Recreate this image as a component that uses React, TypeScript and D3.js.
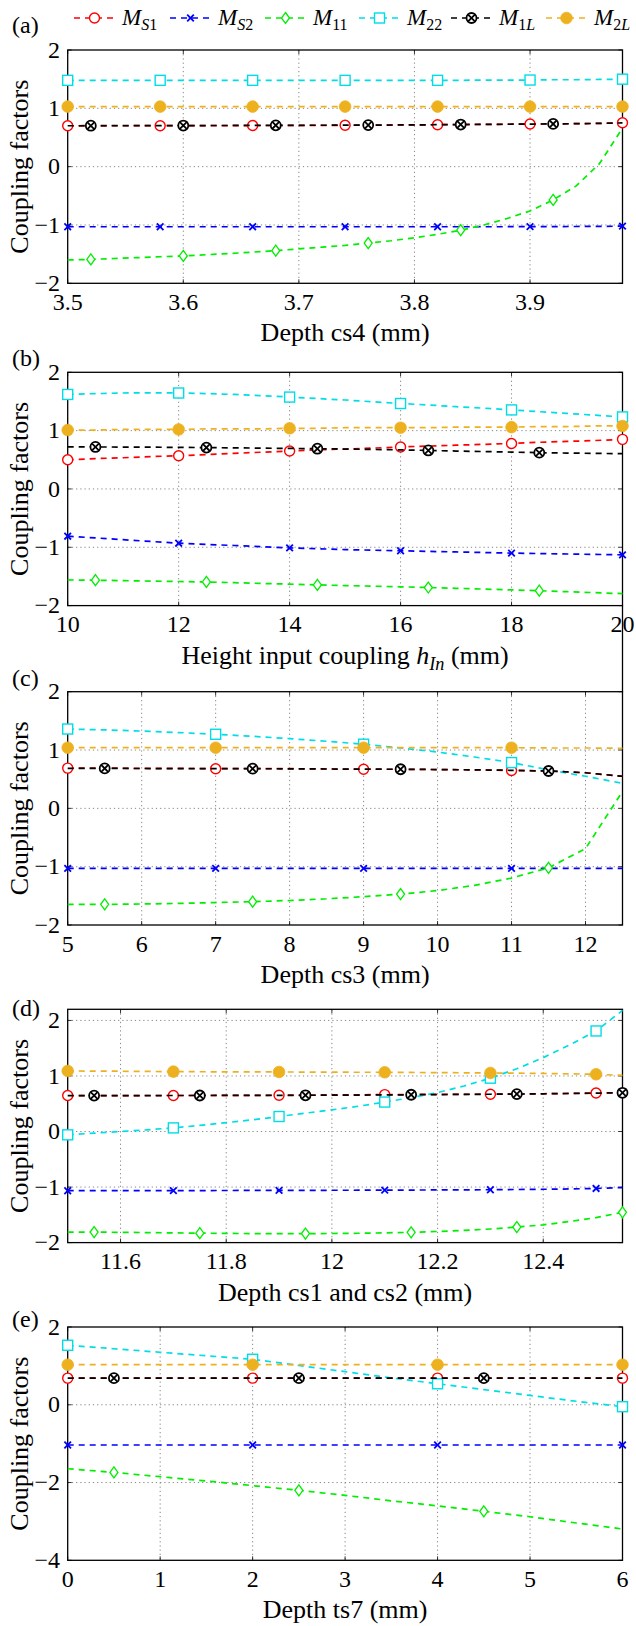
import React from "react";
import * as d3 from "d3";

const W = 636;
const H = 1626;
const FONT = "'Liberation Serif', 'Times New Roman', serif";

// plot frame (shared by all five panels)
const L = 67.7;
const R = 622.5;
const PH = 233.3;

// ---- series (drawing order as in the figure) ----
const seriesSubs: [string, boolean][][] = [
  [["S", true], ["1", false]],
  [["S", true], ["2", false]],
  [["11", false]],
  [["22", false]],
  [["1", false], ["L", true]],
  [["2", false], ["L", true]],
];
const seriesColors = ["#ff0000", "#0000ff", "#00ee00", "#00dde6", "#000000", "#edb120"];
const seriesMarks = ["circle", "cross", "diamond", "square", "otimes", "dot"];
const markPhase = [0, 0, 1, 0, 1, 0];
const MARK_EVERY = 4;

// ---- (a) depth cs4 ----
const xsA = [3.5, 3.52, 3.54, 3.56, 3.58, 3.6, 3.62, 3.64, 3.66, 3.68, 3.7, 3.72, 3.74, 3.76, 3.78, 3.8, 3.82, 3.84, 3.86, 3.88, 3.9, 3.92, 3.94, 3.96, 3.98];
const aS1 = [0.7, 0.7, 0.701, 0.702, 0.702, 0.703, 0.704, 0.705, 0.705, 0.706, 0.707, 0.708, 0.709, 0.711, 0.713, 0.716, 0.719, 0.721, 0.724, 0.727, 0.73, 0.733, 0.737, 0.742, 0.752];
const aS2 = [-1.03, -1.03, -1.03, -1.03, -1.03, -1.03, -1.03, -1.03, -1.03, -1.03, -1.03, -1.03, -1.03, -1.03, -1.03, -1.03, -1.03, -1.03, -1.03, -1.03, -1.028, -1.027, -1.026, -1.024, -1.02];
const a11 = [-1.6, -1.59, -1.575, -1.56, -1.545, -1.53, -1.51, -1.49, -1.465, -1.44, -1.41, -1.38, -1.35, -1.31, -1.27, -1.22, -1.16, -1.09, -1.0, -0.89, -0.76, -0.57, -0.33, 0.05, 0.66];
const a22 = [1.48, 1.48, 1.48, 1.48, 1.48, 1.48, 1.48, 1.48, 1.48, 1.48, 1.48, 1.48, 1.48, 1.48, 1.48, 1.48, 1.48, 1.48, 1.485, 1.485, 1.485, 1.49, 1.49, 1.495, 1.5];
const a1L = [0.701, 0.702, 0.703, 0.703, 0.704, 0.705, 0.705, 0.706, 0.707, 0.708, 0.709, 0.71, 0.711, 0.712, 0.714, 0.716, 0.719, 0.722, 0.725, 0.727, 0.73, 0.733, 0.737, 0.742, 0.75];
const a2L = [1.03, 1.03, 1.03, 1.03, 1.03, 1.03, 1.03, 1.03, 1.03, 1.03, 1.03, 1.03, 1.03, 1.03, 1.03, 1.03, 1.03, 1.03, 1.03, 1.03, 1.03, 1.03, 1.03, 1.03, 1.03];

// ---- (b) height input coupling ----
const xsB = [10, 10.5, 11, 11.5, 12, 12.5, 13, 13.5, 14, 14.5, 15, 15.5, 16, 16.5, 17, 17.5, 18, 18.5, 19, 19.5, 20];
const bS1 = [0.5, 0.52, 0.535, 0.555, 0.57, 0.59, 0.61, 0.63, 0.65, 0.67, 0.685, 0.7, 0.72, 0.735, 0.75, 0.765, 0.78, 0.8, 0.815, 0.83, 0.85];
const bS2 = [-0.81, -0.84, -0.87, -0.9, -0.93, -0.95, -0.97, -0.99, -1.01, -1.025, -1.04, -1.05, -1.06, -1.07, -1.08, -1.09, -1.1, -1.108, -1.115, -1.122, -1.13];
const b11 = [-1.56, -1.565, -1.572, -1.58, -1.587, -1.595, -1.607, -1.62, -1.632, -1.645, -1.656, -1.667, -1.678, -1.69, -1.703, -1.717, -1.731, -1.745, -1.762, -1.778, -1.795];
const b22 = [1.62, 1.635, 1.645, 1.648, 1.645, 1.635, 1.62, 1.6, 1.575, 1.55, 1.525, 1.495, 1.465, 1.44, 1.41, 1.385, 1.355, 1.325, 1.295, 1.265, 1.235];
const b1L = [0.72, 0.72, 0.718, 0.716, 0.713, 0.709, 0.705, 0.7, 0.695, 0.69, 0.684, 0.677, 0.67, 0.66, 0.65, 0.641, 0.632, 0.622, 0.615, 0.61, 0.605];
const b2L = [1.01, 1.01, 1.02, 1.02, 1.02, 1.03, 1.03, 1.03, 1.04, 1.04, 1.05, 1.05, 1.05, 1.05, 1.06, 1.06, 1.06, 1.07, 1.07, 1.08, 1.08];

// ---- (c) depth cs3 ----
const xsC = [5, 5.5, 6, 6.5, 7, 7.5, 8, 8.5, 9, 9.5, 10, 10.5, 11, 11.5, 12, 12.5];
const cS1 = [0.69, 0.69, 0.685, 0.685, 0.68, 0.68, 0.68, 0.675, 0.67, 0.67, 0.665, 0.66, 0.65, 0.64, 0.61, 0.55];
const cS2 = [-1.03, -1.03, -1.03, -1.03, -1.03, -1.03, -1.03, -1.03, -1.03, -1.03, -1.03, -1.03, -1.03, -1.03, -1.03, -1.03];
const c11 = [-1.646, -1.646, -1.64, -1.63, -1.615, -1.6, -1.58, -1.55, -1.515, -1.47, -1.41, -1.32, -1.195, -1.02, -0.69, 0.29];
const c22 = [1.36, 1.345, 1.325, 1.3, 1.27, 1.235, 1.195, 1.15, 1.1, 1.035, 0.965, 0.88, 0.785, 0.66, 0.55, 0.43];
const c1L = [0.685, 0.685, 0.683, 0.682, 0.68, 0.68, 0.678, 0.675, 0.672, 0.67, 0.665, 0.66, 0.652, 0.64, 0.61, 0.55];
const c2L = [1.04, 1.04, 1.04, 1.04, 1.04, 1.04, 1.04, 1.04, 1.04, 1.04, 1.04, 1.04, 1.04, 1.035, 1.035, 1.03];

// ---- (d) depth cs1 and cs2 ----
const xsD = [11.5, 11.55, 11.6, 11.65, 11.7, 11.75, 11.8, 11.85, 11.9, 11.95, 12, 12.05, 12.1, 12.15, 12.2, 12.25, 12.3, 12.35, 12.4, 12.45, 12.5, 12.55];
const dS1 = [0.647, 0.647, 0.647, 0.648, 0.648, 0.649, 0.65, 0.651, 0.653, 0.655, 0.658, 0.661, 0.664, 0.666, 0.668, 0.67, 0.672, 0.675, 0.68, 0.686, 0.693, 0.7];
const dS2 = [-1.066, -1.066, -1.065, -1.065, -1.064, -1.063, -1.062, -1.061, -1.06, -1.059, -1.058, -1.057, -1.056, -1.054, -1.052, -1.05, -1.048, -1.044, -1.04, -1.034, -1.025, -1.01];
const d11 = [-1.81, -1.81, -1.815, -1.82, -1.825, -1.83, -1.835, -1.837, -1.838, -1.838, -1.836, -1.832, -1.825, -1.815, -1.8, -1.78, -1.755, -1.72, -1.68, -1.62, -1.55, -1.455];
const d22 = [-0.06, -0.03, 0.0, 0.03, 0.065, 0.11, 0.16, 0.21, 0.27, 0.33, 0.39, 0.455, 0.53, 0.61, 0.7, 0.82, 0.96, 1.13, 1.33, 1.56, 1.81, 2.18];
const d1L = [0.647, 0.647, 0.647, 0.647, 0.648, 0.648, 0.649, 0.65, 0.651, 0.652, 0.654, 0.656, 0.659, 0.662, 0.665, 0.668, 0.671, 0.674, 0.679, 0.684, 0.69, 0.697];
const d2L = [1.09, 1.088, 1.085, 1.082, 1.078, 1.076, 1.074, 1.073, 1.072, 1.07, 1.068, 1.067, 1.066, 1.063, 1.06, 1.057, 1.054, 1.05, 1.045, 1.038, 1.03, 1.01];

// ---- (e) depth ts7 ----
const xsE = [0, 0.5, 1, 1.5, 2, 2.5, 3, 3.5, 4, 4.5, 5, 5.5, 6];
const eS1 = [0.685, 0.685, 0.685, 0.685, 0.685, 0.685, 0.685, 0.685, 0.685, 0.685, 0.685, 0.685, 0.685];
const eS2 = [-1.035, -1.035, -1.035, -1.035, -1.035, -1.035, -1.035, -1.035, -1.035, -1.035, -1.035, -1.035, -1.035];
const e11 = [-1.645, -1.74, -1.85, -1.96, -2.08, -2.2, -2.33, -2.47, -2.6, -2.74, -2.88, -3.04, -3.195];
const e22 = [1.53, 1.44, 1.35, 1.26, 1.17, 1.01, 0.85, 0.69, 0.54, 0.39, 0.24, 0.09, -0.05];
const e1L = [0.685, 0.685, 0.685, 0.685, 0.685, 0.685, 0.685, 0.685, 0.685, 0.685, 0.685, 0.685, 0.685];
const e2L = [1.03, 1.03, 1.03, 1.03, 1.03, 1.03, 1.03, 1.03, 1.03, 1.03, 1.03, 1.03, 1.03];

// ---- ticks ----
const xTicksA = [3.5, 3.6, 3.7, 3.8, 3.9];
const xTicksB = [10, 12, 14, 16, 18, 20];
const xTicksC = [5, 6, 7, 8, 9, 10, 11, 12];
const xTicksD = [11.6, 11.8, 12, 12.2, 12.4];
const xTicksE = [0, 1, 2, 3, 4, 5, 6];
const yTicks4 = [-2, -1, 0, 1, 2];
const yTicksE = [-4, -2, 0, 2];

type Part = { t: string; it?: boolean; sub?: boolean };

const panels = [
  { tag: "(a)", top: 50, tagDy: -17, xs: xsA, ys: [aS1, aS2, a11, a22, a1L, a2L], xDomain: [3.5, 3.98], yDomain: [-2, 2], xTicks: xTicksA, yTicks: yTicks4, xLabel: [{ t: "Depth cs4 (mm)" }] as Part[] },
  { tag: "(b)", top: 372.3, tagDy: -6, xs: xsB, ys: [bS1, bS2, b11, b22, b1L, b2L], xDomain: [10, 20], yDomain: [-2, 2], xTicks: xTicksB, yTicks: yTicks4, xLabel: [{ t: "Height input coupling " }, { t: "h", it: true }, { t: "In", it: true, sub: true }, { t: " (mm)" }] as Part[] },
  { tag: "(c)", top: 691.7, tagDy: -6, xs: xsC, ys: [cS1, cS2, c11, c22, c1L, c2L], xDomain: [5, 12.5], yDomain: [-2, 2], xTicks: xTicksC, yTicks: yTicks4, xLabel: [{ t: "Depth cs3 (mm)" }] as Part[] },
  { tag: "(d)", top: 1009.3, tagDy: 7, xs: xsD, ys: [dS1, dS2, d11, d22, d1L, d2L], xDomain: [11.5, 12.55], yDomain: [-2, 2.2], xTicks: xTicksD, yTicks: yTicks4, xLabel: [{ t: "Depth cs1 and cs2 (mm)" }] as Part[] },
  { tag: "(e)", top: 1327, tagDy: 0, xs: xsE, ys: [eS1, eS2, e11, e22, e1L, e2L], xDomain: [0, 6], yDomain: [-4, 2], xTicks: xTicksE, yTicks: yTicksE, xLabel: [{ t: "Depth ts7 (mm)" }] as Part[] },
];

const fmt = d3.format("~g");

function Marker({ kind, x, y, color }: { kind: string; x: number; y: number; color: string }) {
  switch (kind) {
    case "circle":
      return <circle cx={x} cy={y} r={5} fill="white" stroke={color} strokeWidth={1.4} />;
    case "cross":
      return (
        <g stroke={color} strokeWidth={1.8}>
          <line x1={x - 3.3} y1={y - 3.3} x2={x + 3.3} y2={y + 3.3} />
          <line x1={x - 3.3} y1={y + 3.3} x2={x + 3.3} y2={y - 3.3} />
        </g>
      );
    case "diamond":
      return <path d={`M${x},${y - 5.5}L${x + 4},${y}L${x},${y + 5.5}L${x - 4},${y}Z`} fill="white" stroke={color} strokeWidth={1.3} />;
    case "square":
      return <rect x={x - 5} y={y - 5} width={10} height={10} fill="white" stroke={color} strokeWidth={1.4} />;
    case "otimes":
      return (
        <g stroke={color} strokeWidth={1.8} fill="white">
          <circle cx={x} cy={y} r={5} />
          <line x1={x - 3.4} y1={y - 3.4} x2={x + 3.4} y2={y + 3.4} />
          <line x1={x - 3.4} y1={y + 3.4} x2={x + 3.4} y2={y - 3.4} />
        </g>
      );
    default:
      return <circle cx={x} cy={y} r={5.8} fill={color} stroke={color} strokeWidth={0.8} />;
  }
}

function Label({ parts, x, y, size, anchor }: { parts: Part[]; x: number; y: number; size: number; anchor: string }) {
  const out: React.ReactNode[] = [];
  let inSub = false;
  parts.forEach((p, i) => {
    const dy = p.sub && !inSub ? size * 0.25 : !p.sub && inSub ? -size * 0.25 : 0;
    inSub = !!p.sub;
    out.push(
      <tspan key={i} dy={dy} fontStyle={p.it ? "italic" : "normal"} fontSize={p.sub ? size * 0.7 : size}>
        {p.t}
      </tspan>
    );
  });
  return (
    <text x={x} y={y} textAnchor={anchor} fontFamily={FONT} fontSize={size} fill="black">
      {out}
    </text>
  );
}

function Panel({ p }: { p: (typeof panels)[number] }) {
  const x = d3.scaleLinear().domain(p.xDomain).range([L, R]);
  const y = d3.scaleLinear().domain(p.yDomain).range([p.top + PH, p.top]);
  const bottom = p.top + PH;
  const line = d3
    .line<number>()
    .x((_, i) => x(p.xs[i]))
    .y((d) => y(d));
  const cy = p.top + PH / 2;
  return (
    <g>
      {/* grid */}
      <g stroke="#777" strokeWidth={0.9} strokeDasharray="1.2,3">
        {p.xTicks.filter((t) => Math.abs(x(t) - L) > 1 && Math.abs(x(t) - R) > 1).map((t) => (
          <line key={"gx" + t} x1={x(t)} x2={x(t)} y1={p.top} y2={bottom} />
        ))}
        {p.yTicks.filter((t) => Math.abs(y(t) - p.top) > 1 && Math.abs(y(t) - bottom) > 1).map((t) => (
          <line key={"gy" + t} x1={L} x2={R} y1={y(t)} y2={y(t)} />
        ))}
      </g>
      {/* ticks */}
      <g stroke="black" strokeWidth={0.8}>
        {p.xTicks.map((t) => (
          <g key={"tx" + t}>
            <line x1={x(t)} x2={x(t)} y1={bottom} y2={bottom - 4} />
            <line x1={x(t)} x2={x(t)} y1={p.top} y2={p.top + 4} />
          </g>
        ))}
        {p.yTicks.map((t) => (
          <g key={"ty" + t}>
            <line x1={L} x2={L + 4} y1={y(t)} y2={y(t)} />
            <line x1={R} x2={R - 4} y1={y(t)} y2={y(t)} />
          </g>
        ))}
      </g>
      <rect x={L} y={p.top} width={R - L} height={PH} fill="none" stroke="black" strokeWidth={1.3} />
      {/* tick labels */}
      {p.xTicks.map((t) => (
        <text key={"lx" + t} x={x(t)} y={bottom + 26.5} textAnchor="middle" fontFamily={FONT} fontSize={24}>
          {fmt(t)}
        </text>
      ))}
      {p.yTicks.map((t) => (
        <text key={"ly" + t} x={60} y={y(t)} dy="0.32em" textAnchor="end" fontFamily={FONT} fontSize={24}>
          {fmt(t)}
        </text>
      ))}
      {/* axis labels */}
      <Label parts={p.xLabel} x={(L + R) / 2} y={bottom + 58} size={26} anchor="middle" />
      <text transform={`translate(28,${cy}) rotate(-90)`} textAnchor="middle" fontFamily={FONT} fontSize={26}>
        Coupling factors
      </text>
      <text x={12} y={p.top + p.tagDy} fontFamily={FONT} fontSize={24}>
        {p.tag}
      </text>
      {/* series */}
      {p.ys.map((vals, s) => (
        <g key={"s" + s}>
          <path d={line(vals) || ""} fill="none" stroke={seriesColors[s]} strokeWidth={1.7} strokeDasharray="6,5" />
          {vals.map((v, i) =>
            i % MARK_EVERY === markPhase[s] ? <Marker key={i} kind={seriesMarks[s]} x={x(p.xs[i])} y={y(v)} color={seriesColors[s]} /> : null
          )}
        </g>
      ))}
    </g>
  );
}

const legendStarts = [74, 170, 265, 359, 451, 546];

function Legend() {
  const ly = 18;
  return (
    <g>
      {seriesColors.map((c, s) => {
        const x0 = legendStarts[s];
        return (
          <g key={s}>
            <line x1={x0} x2={x0 + 41} y1={ly} y2={ly} stroke={c} strokeWidth={1.7} strokeDasharray="6,5" />
            <Marker kind={seriesMarks[s]} x={x0 + 20.5} y={ly} color={c} />
            <text x={x0 + 48} y={ly + 7} fontFamily={FONT} fontSize={23}>
              <tspan fontStyle="italic">M</tspan>
              {seriesSubs[s].map(([t, it], k) => (
                <tspan key={k} fontSize={16} dy={k === 0 ? 5 : 0} fontStyle={it ? "italic" : "normal"}>
                  {t}
                </tspan>
              ))}
            </text>
          </g>
        );
      })}
    </g>
  );
}

export default function App() {
  return (
    <svg width={W} height={H} style={{ position: "absolute", left: 0, top: 0, background: "white" }}>
      <rect width={W} height={H} fill="white" />
      <Legend />
      {panels.map((p) => (
        <Panel key={p.tag} p={p} />
      ))}
      {/* stray right border between (b) and (c) */}
      <line x1={R} x2={R} y1={panels[1].top + PH} y2={panels[2].top} stroke="black" strokeWidth={1.3} />
    </svg>
  );
}
